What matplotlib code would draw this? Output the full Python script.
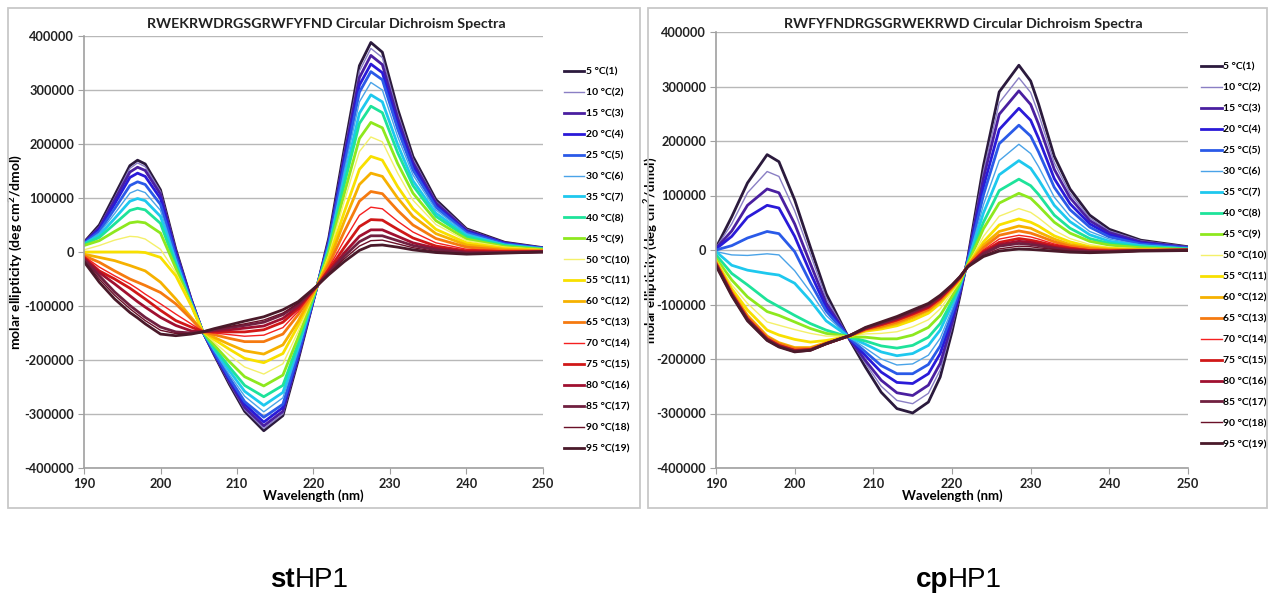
import matplotlib
matplotlib.use('Agg')
import matplotlib.pyplot as plt
from matplotlib.patches import Rectangle
from matplotlib.lines import Line2D
from matplotlib.ticker import FuncFormatter, MultipleLocator

plt.rcParams['font.family'] = ['Lato', 'DejaVu Sans']
plt.rcParams['mathtext.fontset'] = 'custom'
plt.rcParams['mathtext.rm'] = 'Lato:bold'
plt.rcParams['mathtext.bf'] = 'Lato:bold'
plt.rcParams['mathtext.it'] = 'Lato:bold'

temps = [5, 10, 15, 20, 25, 30, 35, 40, 45, 50, 55, 60, 65, 70, 75, 80, 85, 90, 95]
colors = ['#2b1a3d', '#8a7fc4', '#4a1fa0', '#2a1ad8', '#2a5ae8', '#4aa3e8', '#1ec8ee',
          '#1ee39a', '#8ee81e', '#f4f06a', '#f8e000', '#f6b100', '#f57a10', '#f52020',
          '#d01818', '#a01030', '#702040', '#6a1028', '#4a1a2a']
widths = [2.0, 1.0, 2.0, 2.0, 2.0, 1.0, 2.0, 2.0, 2.0, 1.0, 2.0, 2.0, 2.0, 1.0,
          2.0, 2.0, 2.0, 1.0, 2.0]

# ---- stHP1 (left) : wavelength grid (nm) and molar ellipticity / 1000
st_wl = [190, 192, 194, 196, 197, 198, 200, 202, 204, 205.5, 207, 209, 211, 213.5,
         216, 218, 220.5, 222, 224, 226, 227.5, 229, 231, 233, 236, 240, 245, 250]

st_05 = [18, 50, 105, 160, 170, 163, 115, 5, -87, -147, -190, -245, -295, -331, -303, -200, -62,
         26, 189, 345, 388, 370, 265, 177, 97, 43, 18, 8]
st_10 = [17, 47, 100, 155, 165, 158, 112, 4, -87, -147, -190, -243, -292, -327, -300, -198, -62,
         24, 183, 335, 377, 360, 257, 172, 94, 42, 17, 8]
st_15 = [17, 45, 96, 148, 157, 151, 107, 1, -88, -147, -188, -240, -288, -322, -295, -195, -62,
         21, 176, 323, 364, 347, 248, 166, 91, 40, 17, 7]
st_20 = [16, 42, 89, 138, 146, 140, 99, -3, -89, -147, -187, -236, -282, -315, -288, -192, -62,
         18, 167, 309, 348, 332, 237, 159, 86, 38, 16, 7]
st_25 = [16, 38, 80, 123, 130, 125, 88, -8, -91, -147, -185, -233, -277, -306, -282, -188, -62,
         16, 159, 296, 334, 319, 228, 152, 83, 36, 15, 7]
st_30 = [15, 35, 71, 109, 115, 110, 77, -13, -93, -147, -182, -227, -267, -296, -270, -182, -62,
         12, 148, 278, 314, 300, 214, 143, 78, 34, 14, 6]
st_35 = [15, 31, 62, 94, 99, 95, 66, -18, -94, -147, -180, -220, -258, -284, -260, -176, -62,
         8, 135, 257, 291, 278, 199, 132, 72, 31, 13, 6]
st_40 = [14, 27, 52, 77, 81, 78, 53, -24, -96, -147, -177, -213, -247, -268, -247, -169, -62,
         4, 124, 238, 270, 258, 184, 123, 66, 28, 12, 5]
st_45 = [12, 21, 38, 54, 56, 54, 35, -30, -97, -147, -172, -203, -231, -248, -228, -158, -62,
         -1, 107, 210, 240, 230, 164, 109, 58, 24, 10, 5]
st_50 = [4, 12, 22, 29, 28, 24, 5, -38, -97, -147, -167, -191, -213, -226, -207, -147, -62,
         -6, 93, 186, 213, 204, 146, 96, 51, 21, 9, 4]
st_55 = [0, 0, 0, 0, 0, -1, -10, -44, -99, -147, -162, -180, -197, -205, -188, -136, -62,
         -12, 73, 153, 177, 170, 121, 80, 42, 17, 7, 3]
st_60 = [-4, -10, -16, -25, -30, -35, -56, -87, -121, -147, -158, -171, -183, -189, -172, -128, -62,
         -18, 56, 125, 146, 140, 100, 66, 34, 13, 5, 3]
st_65 = [-7, -19, -35, -50, -56, -62, -75, -96, -124, -147, -153, -160, -166, -166, -152, -116, -62,
         -24, 37, 94, 112, 108, 77, 50, 25, 9, 3, 2]
st_70 = [-8, -28, -44, -59, -68, -78, -96, -115, -133, -147, -150, -153, -156, -154, -140, -110, -62,
         -29, 21, 68, 83, 80, 57, 37, 17, 5, 2, 1]
st_75 = [-10, -35, -50, -67, -77, -87, -108, -127, -139, -147, -148, -148, -148, -144, -130, -105, -62,
         -33, 8, 47, 60, 59, 42, 26, 11, 2, 1, 1]
st_80 = [-12, -38, -59, -81, -92, -102, -121, -136, -146, -148, -146, -144, -141, -137, -123, -101, -62,
         -37, -2, 29, 41, 41, 29, 17, 7, 0, -1, 1]
st_85 = [-14, -44, -74, -99, -110, -121, -139, -148, -150, -148, -144, -140, -136, -130, -116, -97, -62,
         -39, -8, 19, 30, 30, 21, 12, 4, -2, -1, 0]
st_90 = [-16, -50, -80, -105, -116, -127, -145, -151, -151, -148, -143, -138, -133, -126, -113, -95, -62,
         -40, -13, 11, 21, 22, 15, 8, 1, -3, -2, 0]
st_95 = [-18, -56, -87, -112, -122, -133, -152, -155, -152, -148, -142, -135, -128, -120, -107, -92, -62,
         -42, -18, 3, 12, 13, 9, 4, -1, -4, -2, 0]

# ---- cpHP1 (right)
cp_wl = [190, 192, 194, 196.5, 198, 200, 202, 204, 207, 209, 211, 213, 215, 217, 218.5, 220,
         221, 222, 224, 226, 228.5, 230, 231, 233, 235, 237.5, 240, 244, 250]

cp_05 = [4, 61, 123, 175, 162, 92, 5, -80, -165, -215, -261, -291, -299, -279, -233, -150,
         -85, -15, 155, 290, 339, 310, 268, 172, 112, 64, 38, 18, 6]
cp_10 = [4, 48, 105, 144, 135, 72, -8, -88, -164, -208, -250, -276, -282, -263, -220, -142,
         -83, -16, 144, 270, 316, 289, 250, 160, 104, 59, 35, 17, 6]
cp_15 = [3, 35, 82, 112, 105, 48, -25, -97, -164, -203, -239, -262, -267, -248, -208, -135,
         -80, -17, 132, 249, 292, 267, 231, 148, 96, 54, 32, 15, 5]
cp_20 = [2, 25, 60, 82, 77, 25, -42, -105, -163, -194, -224, -243, -245, -227, -190, -125,
         -77, -19, 116, 221, 260, 238, 205, 131, 85, 48, 28, 13, 4]
cp_25 = [0, 8, 22, 34, 30, -3, -60, -112, -162, -187, -212, -227, -227, -210, -176, -117,
         -73, -20, 101, 195, 229, 209, 180, 115, 74, 42, 24, 11, 4]
cp_30 = [-3, -9, -10, -7, -9, -38, -77, -120, -161, -180, -200, -211, -209, -193, -162, -109,
         -70, -22, 83, 164, 194, 177, 153, 97, 62, 34, 20, 9, 3]
cp_35 = [-3, -28, -37, -43, -46, -61, -93, -130, -160, -173, -187, -194, -190, -175, -147, -100,
         -66, -23, 68, 138, 164, 150, 129, 82, 52, 28, 16, 8, 2]
cp_40 = [-9, -43, -64, -92, -104, -120, -135, -147, -160, -167, -176, -180, -175, -160, -135, -94,
         -63, -25, 51, 109, 130, 118, 102, 64, 40, 21, 12, 6, 2]
cp_45 = [-15, -55, -86, -113, -120, -132, -144, -153, -159, -160, -163, -163, -156, -142, -120, -85,
         -60, -26, 39, 86, 104, 95, 81, 51, 31, 16, 9, 4, 1]
cp_50 = [-18, -64, -98, -132, -138, -146, -153, -158, -158, -154, -153, -150, -141, -128, -108, -78,
         -57, -28, 25, 62, 76, 69, 59, 36, 21, 10, 5, 2, 1]
cp_55 = [-20, -71, -110, -147, -156, -164, -169, -166, -158, -149, -145, -139, -129, -116, -98, -73,
         -55, -28, 15, 46, 57, 51, 44, 26, 15, 6, 3, 1, 0]
cp_60 = [-22, -76, -120, -158, -170, -179, -179, -170, -158, -147, -142, -135, -124, -111, -94, -70,
         -53, -29, 9, 34, 44, 40, 33, 20, 10, 4, 1, 0, 0]
cp_65 = [-23, -78, -123, -160, -172, -181, -181, -171, -157, -146, -140, -132, -121, -109, -92, -69,
         -53, -29, 4, 27, 35, 31, 26, 15, 7, 2, 0, 0, 0]
cp_70 = [-24, -79, -125, -162, -174, -183, -182, -172, -157, -145, -138, -130, -119, -107, -90, -68,
         -52, -30, 0, 20, 27, 24, 20, 11, 5, 0, -1, -1, 0]
cp_75 = [-25, -80, -126, -163, -175, -184, -183, -172, -157, -145, -137, -128, -117, -105, -89, -67,
         -51, -30, -3, 14, 21, 18, 15, 8, 3, -1, -2, -1, 0]
cp_80 = [-26, -81, -127, -164, -176, -185, -183, -172, -157, -144, -135, -126, -115, -103, -87, -66,
         -50, -30, -5, 10, 16, 14, 11, 5, 1, -2, -2, -1, 0]
cp_85 = [-27, -82, -128, -165, -177, -186, -184, -172, -157, -143, -134, -125, -113, -101, -85, -65,
         -50, -31, -7, 7, 12, 10, 8, 3, -1, -3, -3, -1, 0]
cp_90 = [-28, -83, -129, -165, -177, -186, -184, -172, -157, -143, -133, -124, -112, -100, -85, -65,
         -50, -31, -10, 2, 7, 6, 4, 1, -2, -4, -3, -2, -1]
cp_95 = [-29, -84, -130, -166, -178, -187, -184, -172, -157, -142, -132, -122, -110, -98, -83, -64,
         -49, -31, -12, -2, 2, 1, 0, -2, -4, -5, -4, -2, -1]

st_rows = [st_05, st_10, st_15, st_20, st_25, st_30, st_35, st_40, st_45, st_50,
           st_55, st_60, st_65, st_70, st_75, st_80, st_85, st_90, st_95]
cp_rows = [cp_05, cp_10, cp_15, cp_20, cp_25, cp_30, cp_35, cp_40, cp_45, cp_50,
           cp_55, cp_60, cp_65, cp_70, cp_75, cp_80, cp_85, cp_90, cp_95]

labels = [f"{t} °C({i + 1})" for i, t in enumerate(temps)]

W, H = 1269, 597
fig = plt.figure(figsize=(W / 100, H / 100), dpi=100)

# panel frames
for x0, x1 in [(8, 640), (648, 1267)]:
    fig.add_artist(Rectangle((x0 / W, 1 - 508 / H), (x1 - x0) / W, 500 / H,
                             transform=fig.transFigure, fill=False,
                             edgecolor='#c8c8c8', lw=1.3))


def panel(box, wl, rows, title, title_x, ylab_x, ylab_size, leg_x, leg_y):
    ax = fig.add_axes(box)
    for row, c, lw in zip(rows, colors, widths):
        ax.plot(wl, [v * 1000 for v in row], color=c, lw=lw, solid_joinstyle='round')
    ax.set_xlim(190, 250)
    ax.set_ylim(-400000, 400000)
    ax.xaxis.set_major_locator(MultipleLocator(10))
    ax.yaxis.set_major_locator(MultipleLocator(100000))
    ax.yaxis.set_major_formatter(FuncFormatter(lambda v, p: f"{int(round(v))}"))
    ax.grid(axis='y', color='#b8b8b8', lw=1)
    ax.set_axisbelow(True)
    for s in ['top', 'right']:
        ax.spines[s].set_visible(False)
    for s in ['left', 'bottom']:
        ax.spines[s].set_color('#a0a0a0')
        ax.spines[s].set_linewidth(1.2)
    ax.tick_params(direction='out', length=4, color='#a0a0a0', labelsize=9.2,
                   labelcolor='#222222', pad=3)
    for t in ax.get_xticklabels() + ax.get_yticklabels():
        t.set_fontweight('bold')
    ax.set_xlabel('Wavelength (nm)', fontsize=9.5, fontweight='bold', labelpad=0)
    ax.set_ylabel('molar ellipticity (deg cm$^2$/dmol)', fontsize=ylab_size, fontweight='bold')
    ax.yaxis.set_label_coords(ylab_x, 0.5)
    fig.text(title_x / W, 1 - 24 / H, title, ha='center', va='center',
             fontsize=10.3, fontweight='bold', color='#222222')
    handles = [Line2D([], [], color=c, lw=lw) for c, lw in zip(colors, widths)]
    ax.legend(handles, labels, loc='upper left', bbox_to_anchor=(leg_x, leg_y),
              frameon=False, prop=dict(weight='bold', size=7.5), handlelength=2.0,
              handletextpad=0.15, labelspacing=1.12, borderpad=0, borderaxespad=0)
    return ax


panel([84 / W, 1 - 468 / H, 459 / W, 432 / H], st_wl, st_rows,
      'RWEKRWDRGSGRWFYFND Circular Dichroism Spectra', 326, -0.128, 10, 1.045, 0.928)
panel([716 / W, 1 - 468 / H, 472 / W, 436 / H], cp_wl, cp_rows,
      'RWFYFNDRGSGRWEKRWD Circular Dichroism Spectra', 963, -0.118, 9.5, 1.027, 0.93)

# bottom labels
for xc, bold_part in [(295, 'st'), (948, 'cp')]:
    fig.text(xc / W, 1 - 580 / H, bold_part, ha='right', va='center', fontsize=20,
             fontweight='bold', family='Liberation Sans')
    fig.text(xc / W, 1 - 580 / H, 'HP1', ha='left', va='center', fontsize=20,
             family='Liberation Sans')

fig.savefig('out.png', dpi=100, facecolor='white')
